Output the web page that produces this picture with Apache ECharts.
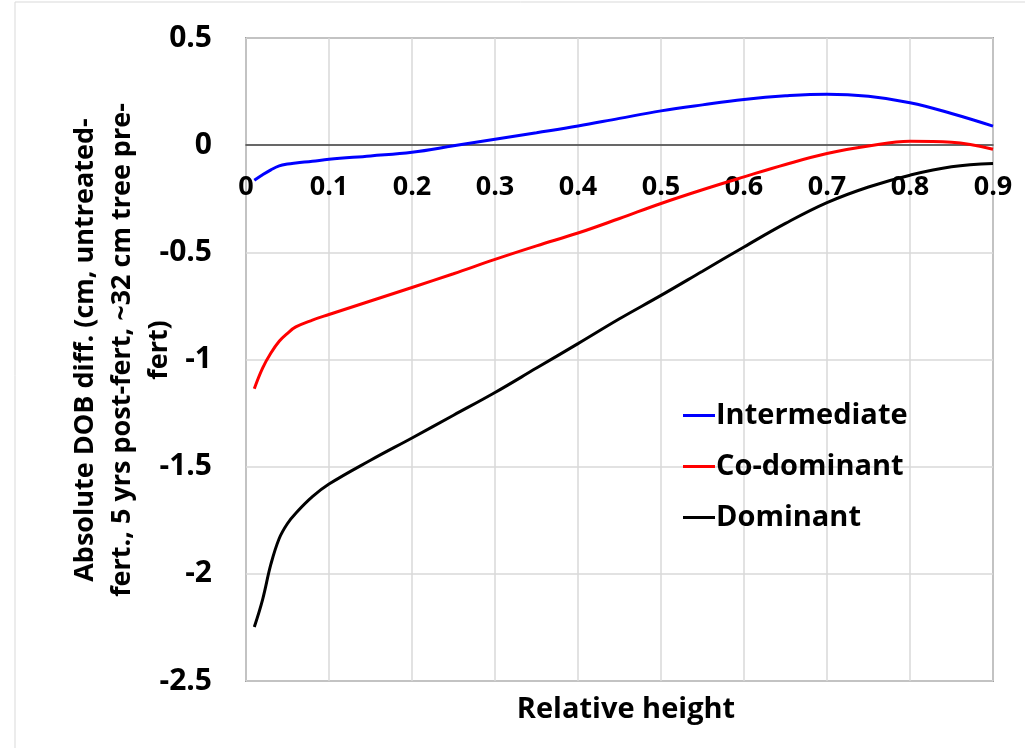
<!DOCTYPE html>
<html>
<head>
<meta charset="utf-8">
<script src="https://cdn.jsdelivr.net/npm/echarts@6/dist/echarts.min.js"></script>
<style>
html,body{margin:0;padding:0;background:#fff;}
#chart{width:1025px;height:748px;}
</style>
</head>
<body>
<div id="chart"></div>
<script>
const xValues = [0.01, 0.02, 0.03, 0.04, 0.05, 0.06, 0.08, 0.1, 0.15, 0.2, 0.25, 0.3, 0.35, 0.4, 0.45, 0.5, 0.55, 0.6, 0.65, 0.7, 0.75, 0.8, 0.85, 0.9];
const intermediate = [-0.164, -0.138, -0.115, -0.097, -0.088, -0.083, -0.075, -0.066, -0.050, -0.033, -0.003, 0.028, 0.058, 0.089, 0.125, 0.160, 0.188, 0.213, 0.230, 0.238, 0.228, 0.198, 0.148, 0.089];
const coDominant = [-1.136, -1.040, -0.970, -0.915, -0.878, -0.848, -0.816, -0.790, -0.727, -0.664, -0.600, -0.533, -0.470, -0.410, -0.342, -0.272, -0.208, -0.148, -0.090, -0.039, -0.004, 0.018, 0.014, -0.019];
const dominant = [-2.248, -2.120, -1.955, -1.835, -1.765, -1.717, -1.640, -1.581, -1.470, -1.366, -1.260, -1.154, -1.040, -0.926, -0.810, -0.701, -0.588, -0.475, -0.365, -0.268, -0.195, -0.140, -0.101, -0.086];
const seriesNames = ['Intermediate', 'Co-dominant', 'Dominant'];
const xAxisTitle = 'Relative height';
const yAxisTitle = 'Absolute DOB diff. (cm, untreated-\nfert., 5 yrs post-fert, ~32 cm tree pre-\nfert)';

const FONT = '"Open Sans", sans-serif';
const pair = arr => xValues.map((x, i) => [x, arr[i]]);
const fmt = v => String(Math.round(v * 10) / 10);

const chart = echarts.init(document.getElementById('chart'), null, {renderer: 'canvas'});
chart.setOption({
  animation: false,
  backgroundColor: '#ffffff',
  grid: [
    {left: 246, right: 32, top: 38, bottom: 67,
     show: true, borderColor: '#595959', borderWidth: 1.5, backgroundColor: 'transparent'},
    {left: 246, right: 32, top: 38, height: 107, show: false}
  ],
  title: {
    text: xAxisTitle,
    left: 621, top: 690, textAlign: 'center',
    textStyle: {fontFamily: FONT, fontWeight: 'bold', fontSize: 29, color: '#000'}
  },
  legend: {
    data: seriesNames,
    orient: 'vertical',
    left: 683, top: 401, padding: 0,
    itemWidth: 32, itemHeight: 14, itemGap: 22,
    textStyle: {fontFamily: FONT, fontWeight: 'bold', fontSize: 29, color: '#000', padding: [0, 0, 0, -4]},
    icon: 'path://M0,5.5 L32,5.5 L32,8.5 L0,8.5 Z'
  },
  xAxis: [
    {gridIndex: 0, type: 'value', min: 0, max: 0.9, interval: 0.1,
     axisLine: {show: false}, axisTick: {show: false}, axisLabel: {show: false},
     splitLine: {show: true, lineStyle: {color: '#d9d9d9', width: 1.5}}},
    {gridIndex: 1, type: 'value', min: 0, max: 0.9, interval: 0.1, position: 'bottom',
     axisLine: {show: true, onZero: false, lineStyle: {color: '#404040', width: 1.5}},
     axisTick: {show: false},
     splitLine: {show: false},
     axisLabel: {
       margin: 29, showMinLabel: true, showMaxLabel: true,
       fontFamily: FONT, fontWeight: 'bold', fontSize: 27, color: '#000',
       formatter: fmt
     }}
  ],
  yAxis: [
    {gridIndex: 0, type: 'value', min: -2.5, max: 0.5, interval: 0.5,
     axisLine: {show: false}, axisTick: {show: false},
     splitLine: {show: true, lineStyle: {color: '#d9d9d9', width: 1.5}},
     axisLabel: {
       margin: 34,
       fontFamily: FONT, fontWeight: 'bold', fontSize: 30, color: '#000',
       formatter: fmt
     }},
    {gridIndex: 1, type: 'value', min: 0, max: 0.5, show: false}
  ],
  graphic: [
    {type: 'rect', shape: {x: 15, y: 2, width: 1030, height: 780}, style: {fill: 'none', stroke: '#d9d9d9', lineWidth: 1}, silent: true, z: -10},
    {type: 'text', x: 122, y: 350, rotation: Math.PI / 2,
     style: {text: yAxisTitle, fontFamily: FONT, fontWeight: 'bold', fontSize: 27, lineHeight: 37, fill: '#000', align: 'center', verticalAlign: 'middle'}}
  ],
  series: [
    {name: seriesNames[0], type: 'line', xAxisIndex: 0, yAxisIndex: 0, data: pair(intermediate), smooth: 0.4, symbol: 'none', lineStyle: {color: '#0000ff', width: 3}, itemStyle: {color: '#0000ff'}, z: 5},
    {name: seriesNames[1], type: 'line', xAxisIndex: 0, yAxisIndex: 0, data: pair(coDominant), smooth: 0.4, symbol: 'none', lineStyle: {color: '#ff0000', width: 3}, itemStyle: {color: '#ff0000'}, z: 4},
    {name: seriesNames[2], type: 'line', xAxisIndex: 0, yAxisIndex: 0, data: pair(dominant), smooth: 0.4, symbol: 'none', lineStyle: {color: '#000000', width: 3}, itemStyle: {color: '#000000'}, z: 3}
  ]
});
</script>
</body>
</html>
